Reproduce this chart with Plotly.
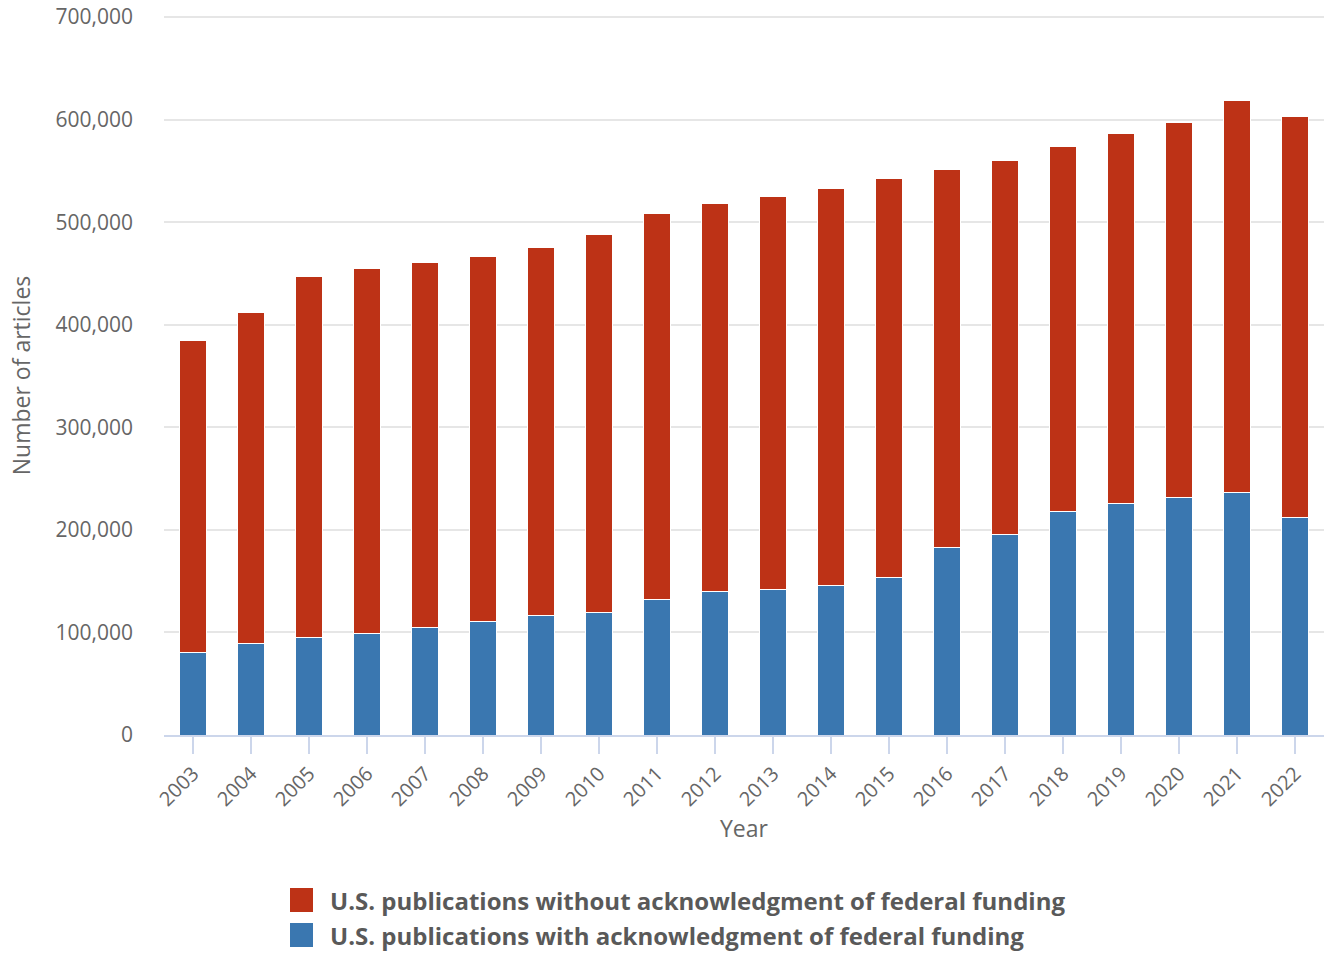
import plotly.graph_objects as go

years = [str(y) for y in range(2003, 2023)]
with_funding = [80000, 89700, 95500, 99400, 105000, 111000, 117000, 119000, 132600, 140000,
                142000, 146000, 154000, 183000, 195000, 218000, 226000, 232000, 236000, 212500]
totals = [385000, 412000, 447500, 455000, 461000, 467000, 475000, 488000, 508000, 518000,
          525500, 533000, 543000, 551000, 560600, 574000, 586000, 597600, 619000, 603500]
without_funding = [t - w for t, w in zip(totals, with_funding)]
y_ticks = [0, 100000, 200000, 300000, 400000, 500000, 600000, 700000]

name_without = "U.S. publications without acknowledgment of federal funding"
name_with = "U.S. publications with acknowledgment of federal funding"

RED = "#bd3216"
BLUE = "#3a77b0"
FONT = "Open Sans"

# page body margin is removed (post_script), so figure coords == screenshot coords
L, T, W, H = 164, 16, 1160, 719
FIG_W, FIG_H = 1328, 953

fig = go.Figure()
fig.add_trace(go.Bar(x=years, y=with_funding, name=name_with, showlegend=False,
                     marker=dict(color=BLUE, line=dict(color="white", width=1))))
fig.add_trace(go.Bar(x=years, y=without_funding, name=name_without, showlegend=False,
                     marker=dict(color=RED, line=dict(color="white", width=1))))

def px(xf):
    return (xf - L) / W

def py(yf):
    return (T + H - yf) / H

# legend drawn manually (large square swatches as in the reference)
legend_items = [(name_without, RED, 888), (name_with, BLUE, 923)]
for name, color, top in legend_items:
    fig.add_shape(type="rect", xref="paper", yref="paper",
                  x0=px(290), x1=px(313), y0=py(top), y1=py(top + 24),
                  fillcolor=color, line=dict(width=0))
    fig.add_annotation(xref="paper", yref="paper", x=px(328), y=py(top + 12),
                       xanchor="left", yanchor="middle", showarrow=False, text=f"<b>{name}</b>",
                       font=dict(family=FONT, size=24, color="#595959"))

fig.update_layout(
    barmode="stack",
    bargap=0.53,
    width=FIG_W, height=FIG_H,
    margin=dict(l=L, r=FIG_W - L - W, t=T, b=FIG_H - T - H),
    plot_bgcolor="white", paper_bgcolor="white",
    font=dict(family=FONT, color="#666666", size=20),
    showlegend=False,
    xaxis=dict(title=dict(text="Year", font=dict(size=23, color="#666666"), standoff=10),
               tickangle=-45, tickfont=dict(size=20, color="#666666"),
               showline=True, linecolor="#ccd6eb", linewidth=2,
               ticks="outside", tickcolor="#ccd6eb", ticklen=17, tickwidth=2,
               showgrid=False, automargin=False),
    yaxis=dict(title=dict(text="Number of articles", font=dict(size=23, color="#666666"), standoff=18),
               range=[0, 701000], tickmode="array", tickvals=y_ticks, tickformat=",",
               tickfont=dict(size=21, color="#666666"), ticklabeloverflow="allow",
               showgrid=True, gridcolor="#e6e6e6", gridwidth=1.5, zeroline=False,
               ticklabelstandoff=30, automargin=False),
)

fig.write_html("out.html", post_script="document.body.style.margin='0';",
               config={"displayModeBar": False})
